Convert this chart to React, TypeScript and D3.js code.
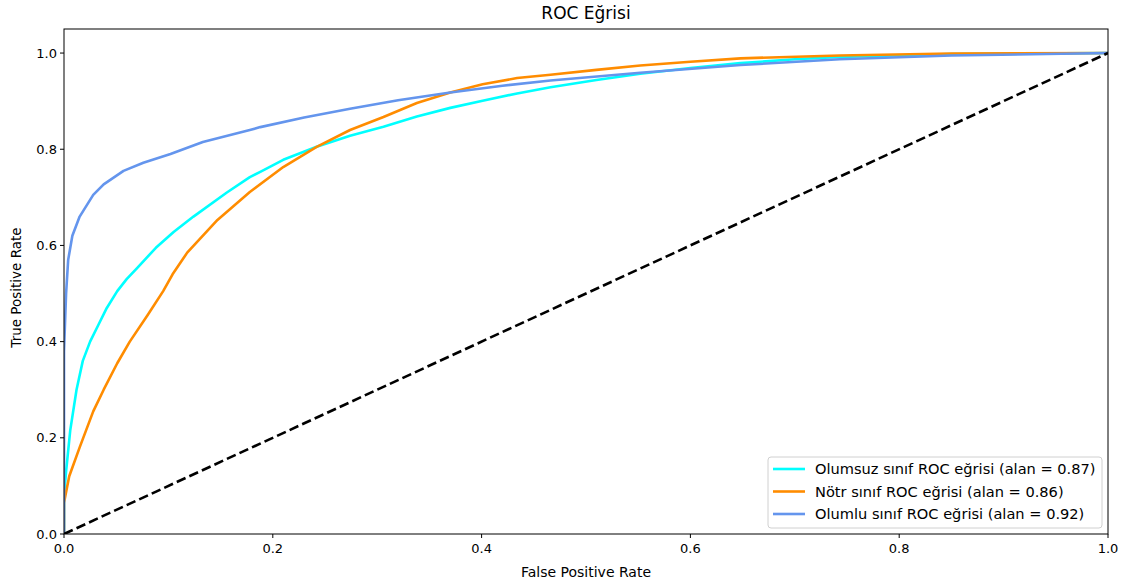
import React from "react";
import * as d3 from "d3";

type Pt = [number, number];

const TITLE = "ROC Eğrisi";
const X_LABEL = "False Positive Rate";
const Y_LABEL = "True Positive Rate";
const TICKS = [0, 0.2, 0.4, 0.6, 0.8, 1.0];

const seriesNames = [
  "Olumsuz sınıf ROC eğrisi (alan = 0.87)",
  "Nötr sınıf ROC eğrisi (alan = 0.86)",
  "Olumlu sınıf ROC eğrisi (alan = 0.92)",
];
const seriesColors = ["#00FFFF", "#FF8C00", "#6495ED"];

const olumsuz: Pt[] = [
  [0, 0], [0, 0.08], [0.002, 0.13], [0.006, 0.216], [0.012, 0.3], [0.018, 0.36],
  [0.025, 0.4], [0.033, 0.435], [0.041, 0.47], [0.051, 0.505], [0.06, 0.53],
  [0.07, 0.553], [0.088, 0.595], [0.105, 0.628], [0.124, 0.66], [0.156, 0.71],
  [0.178, 0.742], [0.188, 0.753], [0.21, 0.778], [0.242, 0.805], [0.274, 0.828],
  [0.306, 0.847], [0.338, 0.868], [0.37, 0.886], [0.401, 0.901], [0.434, 0.916],
  [0.466, 0.929], [0.51, 0.944], [0.552, 0.957], [0.6, 0.969], [0.648, 0.979],
  [0.7, 0.987], [0.743, 0.992], [0.85, 0.998], [1, 1],
];

const notr: Pt[] = [
  [0, 0], [0, 0.065], [0.005, 0.12], [0.015, 0.18], [0.028, 0.255], [0.038, 0.3],
  [0.051, 0.355], [0.063, 0.4], [0.08, 0.455], [0.095, 0.505], [0.104, 0.54],
  [0.118, 0.585], [0.147, 0.653], [0.178, 0.711], [0.21, 0.763], [0.242, 0.805],
  [0.274, 0.84], [0.306, 0.867], [0.338, 0.896], [0.37, 0.918], [0.401, 0.935],
  [0.434, 0.948], [0.466, 0.955], [0.51, 0.965], [0.552, 0.974], [0.6, 0.982],
  [0.648, 0.989], [0.743, 0.995], [0.85, 0.999], [1, 1],
];

const olumlu: Pt[] = [
  [0, 0], [0, 0.38], [0.002, 0.5], [0.004, 0.57], [0.008, 0.62], [0.015, 0.66],
  [0.028, 0.705], [0.038, 0.727], [0.057, 0.755], [0.076, 0.772], [0.102, 0.79],
  [0.133, 0.815], [0.178, 0.84], [0.188, 0.846], [0.23, 0.866], [0.274, 0.884],
  [0.32, 0.902], [0.37, 0.918], [0.42, 0.932], [0.466, 0.943], [0.552, 0.959],
  [0.648, 0.975], [0.743, 0.987], [0.85, 0.995], [1, 1],
];

const diagonal: Pt[] = [[0, 0], [1, 1]];

const allSeries = [olumsuz, notr, olumlu];

const W = 1127;
const H = 585;
const M = { left: 64, right: 1108, top: 29, bottom: 534 };
const FONT = "DejaVu Sans, sans-serif";

export default function App() {
  const x = d3.scaleLinear().domain([0, 1]).range([M.left, M.right]);
  const y = d3.scaleLinear().domain([0, 1.05]).range([M.bottom, M.top]);
  const line = d3
    .line<Pt>()
    .x((d) => x(d[0]))
    .y((d) => y(d[1]))
    .curve(d3.curveLinear);

  const legX = 768;
  const legY = 457;
  const legW = 334;
  const legH = 71;
  const rowH = 22.5;

  return (
    <svg
      width={W}
      height={H}
      style={{ position: "absolute", left: 0, top: 0, display: "block", background: "#fff" }}
      fontFamily={FONT}
    >
      <defs>
        <clipPath id="plot-clip">
          <rect x={M.left} y={M.top} width={M.right - M.left} height={M.bottom - M.top} />
        </clipPath>
      </defs>
      <rect x={0} y={0} width={W} height={H} fill="#fff" />

      <g clipPath="url(#plot-clip)">
        {allSeries.map((s, i) => (
          <path
            key={i}
            d={line(s) || ""}
            fill="none"
            stroke={seriesColors[i]}
            strokeWidth={2.6}
            strokeLinejoin="round"
            strokeLinecap="butt"
          />
        ))}
        <path
          d={line(diagonal) || ""}
          fill="none"
          stroke="#000"
          strokeWidth={2.6}
          strokeDasharray="9.6,4.2"
        />
      </g>

      <rect
        x={M.left}
        y={M.top}
        width={M.right - M.left}
        height={M.bottom - M.top}
        fill="none"
        stroke="#000"
        strokeWidth={1}
      />

      {TICKS.map((t) => (
        <g key={"x" + t}>
          <line x1={x(t)} x2={x(t)} y1={M.bottom} y2={M.bottom + 4} stroke="#000" strokeWidth={1} />
          <text x={x(t)} y={M.bottom + 19} textAnchor="middle" fontSize={13} fill="#000">
            {t.toFixed(1)}
          </text>
        </g>
      ))}
      {TICKS.map((t) => (
        <g key={"y" + t}>
          <line x1={M.left - 4} x2={M.left} y1={y(t)} y2={y(t)} stroke="#000" strokeWidth={1} />
          <text x={M.left - 7} y={y(t)} dy="0.35em" textAnchor="end" fontSize={13} fill="#000">
            {t.toFixed(1)}
          </text>
        </g>
      ))}

      <text x={586} y={19} textAnchor="middle" fontSize={17} fill="#000">
        {TITLE}
      </text>
      <text x={586} y={577} textAnchor="middle" fontSize={14} fill="#000">
        {X_LABEL}
      </text>
      <text
        transform={`translate(21, ${(M.top + M.bottom) / 2 + 6}) rotate(-90)`}
        textAnchor="middle"
        fontSize={13.5}
        fill="#000"
      >
        {Y_LABEL}
      </text>

      <rect
        x={legX}
        y={legY}
        width={legW}
        height={legH}
        rx={3}
        fill="#fff"
        fillOpacity={0.8}
        stroke="#d0d0d0"
        strokeWidth={1}
      />
      {seriesNames.map((name, i) => {
        const cy = legY + 12 + i * rowH;
        return (
          <g key={name}>
            <line x1={legX + 5} x2={legX + 37} y1={cy} y2={cy} stroke={seriesColors[i]} strokeWidth={2.6} />
            <text x={legX + 47} y={cy} dy="0.35em" fontSize={14.6} fill="#000">
              {name}
            </text>
          </g>
        );
      })}
    </svg>
  );
}
